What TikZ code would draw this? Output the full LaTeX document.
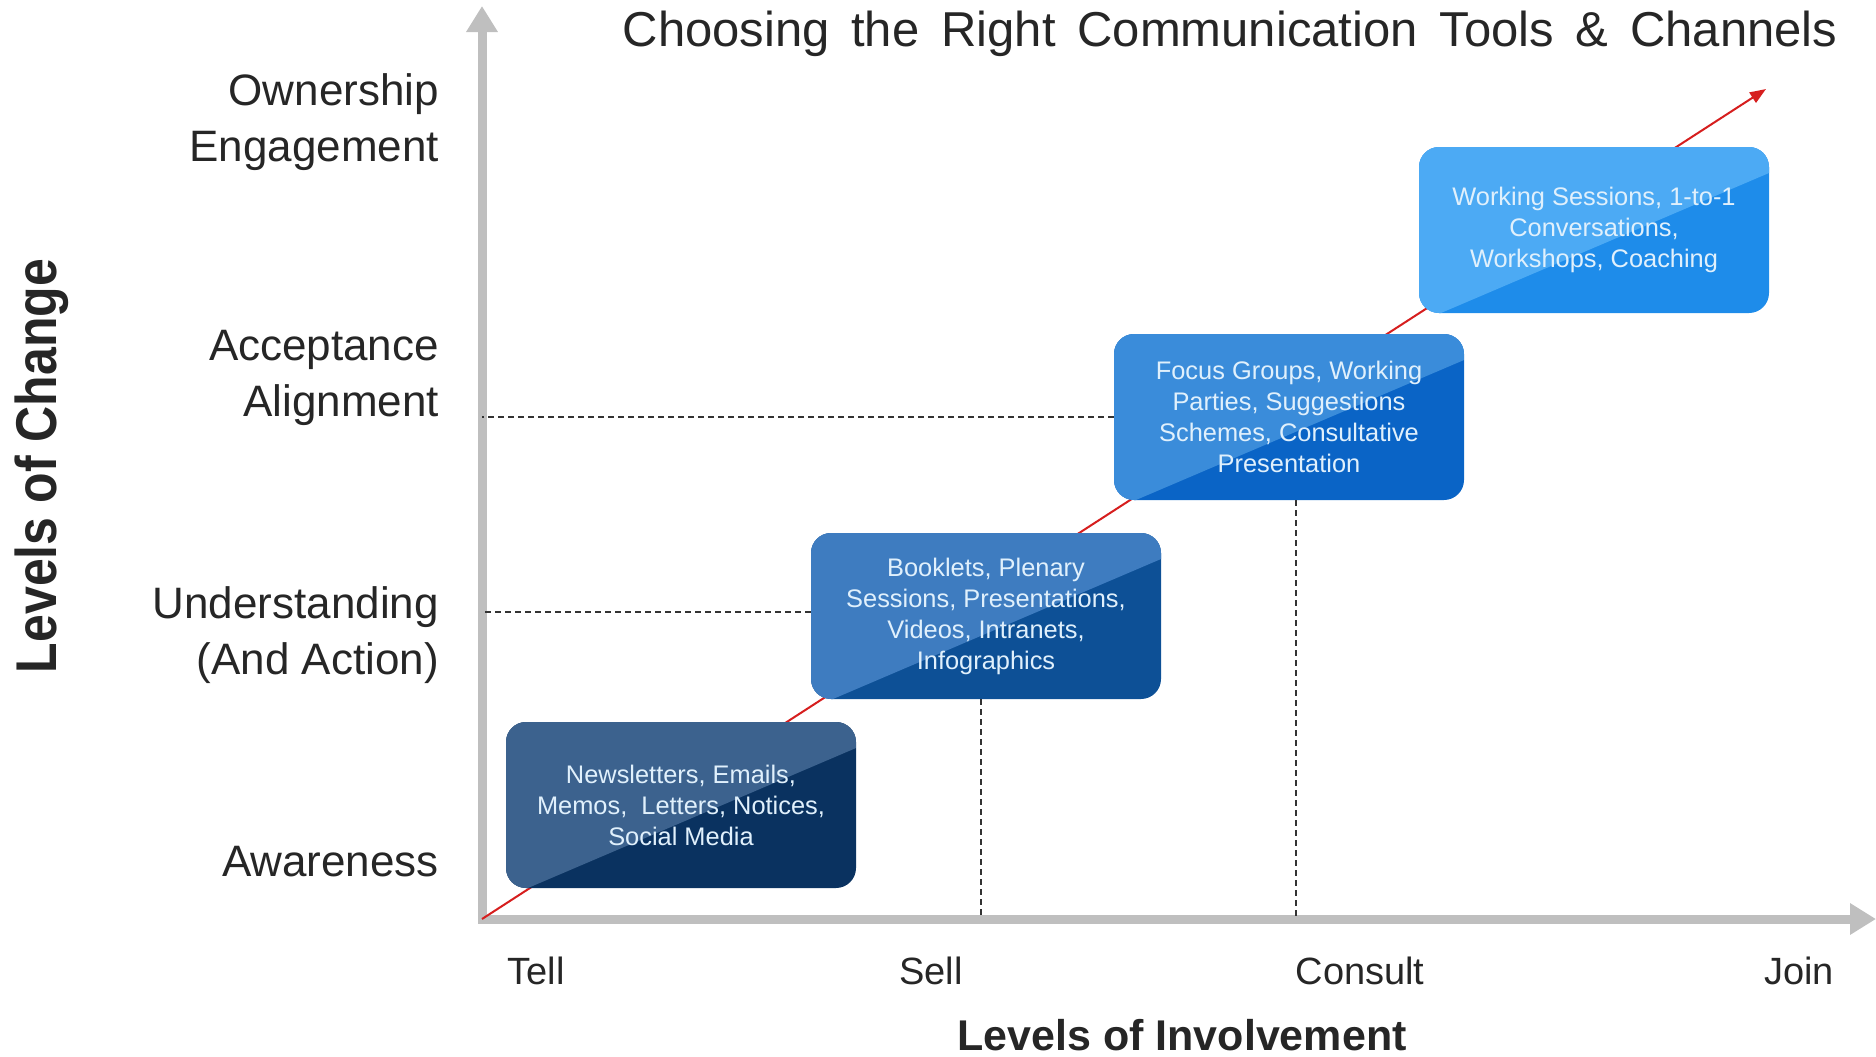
\documentclass[tikz,border=0pt]{standalone}
\usepackage{fontspec}
\setmainfont{Liberation Sans}
\newfontfamily\headfont[WordSpace=1.6]{Liberation Sans}
\usetikzlibrary{calc}
\usetikzlibrary{positioning}
\usetikzlibrary{arrows.meta}

\definecolor{axisgray}{RGB}{191,191,191}
\definecolor{trendred}{RGB}{214,30,30}
\definecolor{labelgray}{RGB}{38,38,38}
\definecolor{boxtext}{RGB}{224,240,252}
\definecolor{tellL}{RGB}{60,98,142}
\definecolor{tellD}{RGB}{10,50,96}
\definecolor{sellL}{RGB}{62,124,192}
\definecolor{sellD}{RGB}{13,80,150}
\definecolor{consultL}{RGB}{58,140,218}
\definecolor{consultD}{RGB}{10,100,198}
\definecolor{joinL}{RGB}{76,170,244}
\definecolor{joinD}{RGB}{30,140,234}

\begin{document}
\begin{tikzpicture}[x=0.5pt, y=-0.5pt,
    axis/.style={draw=axisgray, line width=4.5pt, -{Triangle[width=15pt,length=13pt]}},
    trend/.style={draw=trendred, line width=1pt, -{Triangle[width=6pt,length=8pt]}},
    guide/.style={densely dashed, line width=0.6pt, black!80},
    level/.style={anchor=east, align=right, text=labelgray, font=\fontsize{22}{28}\selectfont},
    mode/.style={text=labelgray, font=\fontsize{19}{22}\selectfont},
    axistitle/.style={text=labelgray, font=\bfseries\fontsize{21.5}{24}\selectfont},
    chan/.style 2 args={rounded corners=10pt, minimum width=175pt, minimum height=83pt,
        inner sep=0pt, fill=#2, align=center, text=boxtext,
        font=\fontsize{12.7}{15.5}\selectfont,
        path picture={\fill[#1, sharp corners]
            ($(path picture bounding box.south west)+(11pt,0)$)
            -- ($(path picture bounding box.north east)+(0,-13pt)$)
            |- (path picture bounding box.north west)
            -- (path picture bounding box.south west) -- cycle;}}]
    \useasboundingbox (0,0) rectangle (1876,1056);

    % axes
    \coordinate (O) at (482,919);
    \coordinate (ytop) at (482,6);
    \coordinate (xend) at (1876,919);
    \coordinate (trendtip) at (1766,89);
    \draw[axis] ($(O)+(0,4)$) -- (ytop);
    \draw[axis] ($(O)+(-4,0)$) -- (xend);
    \draw[trend] (O) -- (trendtip);

    % channel boxes
    \node[chan={tellL}{tellD}] (tell box) at (681,805)
        {Newsletters, Emails,\\Memos,\ \ Letters, Notices,\\Social Media};
    \node[chan={sellL}{sellD}] (sell box) at (986,616)
        {Booklets, Plenary\\Sessions, Presentations,\\Videos, Intranets,\\Infographics};
    \node[chan={consultL}{consultD}] (consult box) at (1289,417)
        {Focus Groups, Working\\Parties, Suggestions\\Schemes, Consultative\\Presentation};
    \node[chan={joinL}{joinD}] (join box) at (1594,230)
        {Working Sessions, 1-to-1\\Conversations,\\Workshops, Coaching};

    % guide lines
    \draw[guide] ($(sell box.west)+(0,-4)$) -- ($(sell box.west -| O)+(0,-4)$);
    \draw[guide] (consult box.west) -- (consult box.west -| O);
    \draw[guide] ($(sell box.south)+(-5,0)$) -- ($(sell box.south |- O)+(-5,0)$);
    \draw[guide] ($(consult box.south)+(7,0)$) -- ($(consult box.south |- O)+(7,0)$);

    % levels of change
    \node[level] (own) at (446,122) {Ownership\\Engagement};
    \node[level] (accept) at (446,378) {Acceptance\\Alignment};
    \node[level] (under) at (446,635) {Understanding\\(And Action)};
    \node[level] (aware) at (446,862) {Awareness};

    % levels of involvement
    \node[mode] (tell) at (536,971) {Tell};
    \node[mode] (sell) at (931,971) {Sell};
    \node[mode] (consult) at (1360,971) {Consult};
    \node[mode] (join) at (1799,971) {Join};

    \node[axistitle, rotate=90] (change) at (42,466)
        {\scalebox{1}[1.15]{\fontsize{25}{28}\selectfont Levels of Change}};
    \node[axistitle] (involve) at (1182,1035) {Levels of Involvement};
    \node[text=labelgray, font=\headfont\fontsize{24.5}{28}\selectfont] (heading) at (1230,34)
        {Choosing the Right Communication Tools \& Channels};
\end{tikzpicture}
\end{document}
